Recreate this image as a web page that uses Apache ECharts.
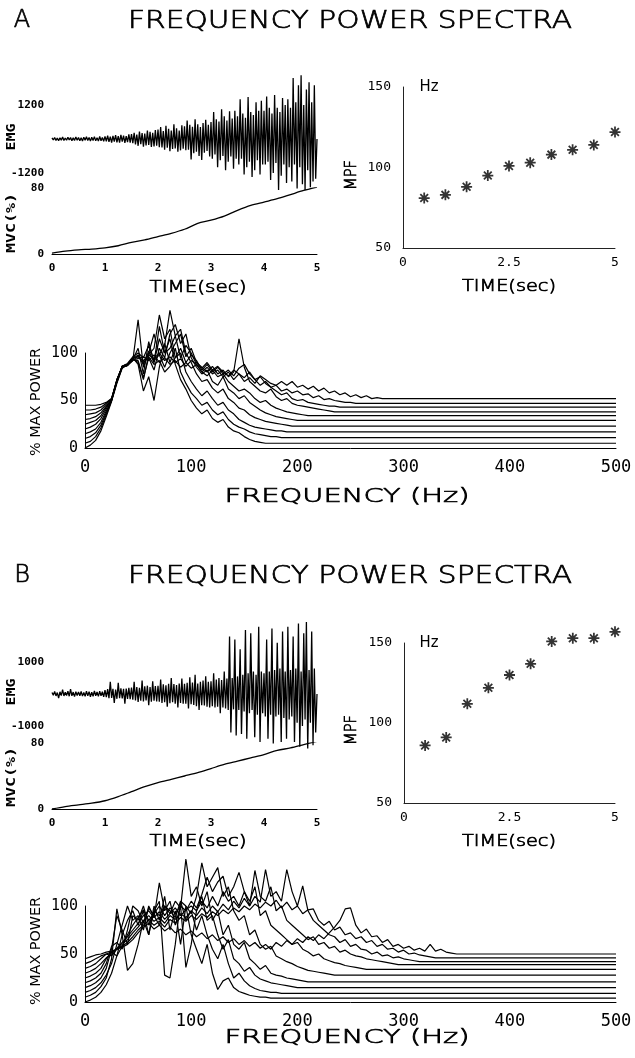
<!DOCTYPE html>
<html><head><meta charset="utf-8">
<script src="https://cdn.jsdelivr.net/npm/echarts@6/dist/echarts.min.js"></script>
<style>html,body{margin:0;padding:0;background:#fff}#c{width:635px;height:1058px}</style>
</head><body><div id="c"></div>
<script>
// ---------------- DATA ----------------
const panelLetters = ['A', 'B'];
const titleText = 'FREQUENCY POWER SPECTRA';
const emgTickA = [-1200, 1200];
const emgTickB = [-1000, 1000];
const mvcTicks = [0, 80];
const timeTicks = [0, 1, 2, 3, 4, 5];
const mpfTicks = [50, 100, 150];
const specXTicks = [0, 100, 200, 300, 400, 500];
const specYTicks = [0, 50, 100];

// EMG raw signal samples (every 0.025 s, 0..5 s)
const emgA = [
 40,-35,55,-50,30,-60,45,-40,70,-55,35,-45,60,-30,50,-65,40,-50,75,-45,
 55,-60,40,-70,65,-45,80,-55,50,-75,60,-50,85,-65,45,-70,90,-60,55,-80,
 95,-80,120,-100,85,-130,110,-90,140,-115,100,-125,150,-95,120,-140,105,-110,160,-130,
 170,-150,220,-190,160,-240,260,-180,210,-270,190,-230,300,-210,250,-280,220,-260,320,-240,
 330,-290,420,-300,280,-380,470,-310,360,-430,300,-350,520,-330,380,-450,300,-400,480,-340,
 450,-400,650,-380,500,-720,430,-500,700,-450,520,-600,420,-740,560,-480,680,-420,500,-620,
 600,-700,950,-550,700,-1000,620,-750,1050,-600,800,-1100,650,-800,980,-620,720,-1050,1000,-700,
 800,-900,1400,-700,900,-1250,750,-1000,1480,-800,950,-1340,850,-1100,1300,-750,1000,-1250,1350,-900,
 1000,-900,1500,-800,1100,-1450,900,-1200,1550,-850,1100,-1800,950,-1300,1450,-900,1200,-1550,1400,-1000,
 1100,-1500,2150,-900,1300,-1750,1900,-1000,2250,-1600,1200,-1800,1750,-1100,2000,-1700,1300,-1500,1900,-1400,0
];
const emgB = [
 50,-40,80,-60,45,-130,70,-50,140,-60,55,-45,90,-70,150,-55,60,-80,70,-50,
 60,-55,80,-65,50,-70,90,-60,75,-85,60,-70,95,-55,65,-75,85,-60,70,-90,
 120,-100,150,-130,380,-120,160,-280,140,-150,350,-130,180,-140,160,-300,170,-150,190,-160,
 200,-180,380,-200,220,-250,190,-210,420,-230,240,-200,260,-350,220,-240,400,-210,250,-230,
 260,-240,450,-280,300,-260,270,-400,320,-290,500,-260,310,-300,280,-420,330,-280,480,-300,
 320,-300,350,-450,520,-320,360,-340,600,-380,330,-500,380,-350,420,-360,550,-400,380,-420,
 400,-380,650,-420,450,-400,500,-600,440,-420,700,-450,480,-500,1800,-1200,500,-480,1700,-1300,
 550,-500,1400,-1250,600,-550,2000,-1400,650,-600,1900,-500,700,-1350,600,-650,2100,-1500,700,-600,
 650,-700,1700,-1400,700,-650,2050,-1550,750,-700,1600,-650,800,-1500,1950,-750,700,-1400,2100,-800,
 750,-700,1800,-1500,800,-900,2200,-1650,700,-1000,1900,-800,2250,-1700,750,-900,1950,-1600,800,-1200,0
];
const emgStep = 0.025;

// Force (% MVC), every 0.25 s
const mvcA = [1,3.5,5,6,7.5,10,14,17,21,25,30,37,41,46,53,59,63,67,72,77,81];
const mvcB = [0,3,5,7,10,15,21,27,32,36,40,44,49,54,58,62,66,71,74,78,82];
const mvcStep = 0.25;

// Mean power frequency (Hz)
const mpfTime = [0.5,1,1.5,2,2.5,3,3.5,4,4.5,5];
const mpfA = [81,83,88,95,101,103,108,111,114,122];
const mpfB = [86,91,112,122,130,137,151,153,153,157];

// Power spectra (% max power, stacked), sampled every 5 Hz from 0 Hz; last value is at 500 Hz
const specA0 = [0,3,8,18,33,49,68,84,88,93, 105,78,112,90,128,100,115,88,72,62, 50,42,36,40,31,27,30,22,18,16, 12,9,7,6,5, 5];
const specA1 = [5,7,12,21,35,50,69,85,87,92, 135,85,100,120,98,110,90,105,80,68, 58,52,45,48,40,35,38,30,25,22, 20,17,15,14,13,12,12,11, 11];
const specA2 = [10,12,16,24,37,50,70,86,88,94, 90,72,98,105,140,115,125,95,100,80, 70,62,55,60,52,45,48,40,36,30, 27,24,22,21,20,19,18,18,17, 17];
const specA3 = [15,17,20,27,39,50,71,85,87,95, 88,60,75,50,85,108,145,118,125,100, 90,78,70,72,63,58,62,52,48,42, 40,35,32,30,28,27,26,25,24,23, 23];
const specA4 = [20,22,25,31,41,51,70,86,88,93, 92,74,95,82,105,95,120,130,110,120, 95,85,78,82,70,66,75,62,58,52, 55,48,44,40,37,35,33,32,31,30,29, 29];
const specA5 = [25,27,29,34,43,51,72,85,87,92, 97,88,102,90,115,100,105,118,95,108, 100,88,80,76,82,75,78,70,65,60, 62,58,52,48,50,45,42,40,38,37,36,35,34, 34];
const specA6 = [30,31,33,37,44,51,71,86,89,96, 100,95,108,92,98,85,100,110,120,96, 105,90,85,80,86,78,82,75,80,115, 85,70,65,60,58,62,54,50,52,47, 45,44,43,42,41,40,39,38, 38];
const specA7 = [35,36,37,40,46,52,72,85,87,94, 98,90,96,88,92,80,86,95,105,90, 98,92,82,88,80,85,78,82,76,84, 88,78,72,66,70,64,60,56,58,52, 50,51,48,47,46,45,44,44,43, 43];
const specA8 = [40,40,41,43,47,52,71,86,88,95, 96,92,98,94,100,92,96,90,94,86, 92,88,84,90,82,86,80,76,82,78, 74,80,72,75,68,64,66,60,62,58, 60,56,57,53,55,51,52,50,49,48,48,47, 47];
const specA9 = [45,45,45,46,48,52,70,85,87,93, 94,96,92,98,90,95,88,92,85,90, 84,88,80,85,78,82,75,80,72,78, 70,74,68,76,72,68,66,70,66,70, 64,66,62,65,60,63,58,60,56,58, 54,56,53,55,52,53,52, 52];

const specB0 = [0,2,5,10,18,30,48,70,85,95, 80,95,70,100,85,110,75,95,60,100, 70,55,40,60,30,13,22,25,15,11, 9,7,6,5,5,4, 4];
const specB1 = [5,7,10,16,25,45,97,70,33,40, 60,85,70,95,105,28,25,60,105,85, 95,75,90,70,55,45,60,40,25,30, 22,17,14,12,11,10,10,9, 9];
const specB2 = [10,12,15,20,28,40,60,80,100,85, 90,75,100,88,124,95,105,80,100,36, 60,95,110,85,90,70,55,65,45,40, 32,36,28,24,22,20,19,18,17,16,15, 15];
const specB3 = [15,17,20,25,35,55,90,75,60,90, 85,100,80,95,90,100,92,105,98,149, 110,120,100,115,85,95,70,80,60,55, 62,45,40,34,38,30,28,27,25,24,23,22,21, 21];
const specB4 = [20,22,25,30,40,58,62,55,75,100, 95,82,98,90,80,100,95,88,105,100, 92,110,145,120,130,140,110,120,95,85, 90,70,75,60,55,58,48,45,42,40, 37,35,33,32,31,30,29,28, 28];
const specB5 = [25,27,30,35,45,52,48,58,70,80, 88,96,85,92,100,90,98,92,100,95, 105,98,112,130,115,125,131,110,120,135, 115,105,120,90,95,80,75,70,65,60, 62,55,52,48,50,45,43,41,40,38, 37,36,35,34, 34];
const specB6 = [30,32,35,40,46,50,56,62,68,75, 82,90,95,88,94,86,92,98,90,96, 100,95,105,98,110,100,115,105,110,100, 115,100,137,110,105,120,95,100,85,80, 75,70,65,68,60,62,56,58,52,54, 50,48,47,45,44,43,42,41,40,39, 39];
const specB7 = [35,37,40,45,50,48,55,60,65,72, 78,85,90,84,88,82,90,86,92,88, 95,90,98,92,100,94,102,96,105,98, 108,100,110,104,138,110,115,105,138,115, 100,121,95,85,80,75,70,68,62,65, 58,60,55,54,50,52,48,49,46,47, 45,44,43,42, 42];
const specB8 = [40,42,45,48,50,52,55,58,62,68, 75,80,85,80,84,78,86,82,88,84, 90,86,92,88,94,90,96,92,98,94, 100,96,102,98,104,100,106,98,104,96, 100,92,96,97,85,80,84,75,78,70, 72,66,68,62,64,58,60,55,56,52, 54,50,51,49,48,47,46, 46];
const specB9 = [45,47,49,50,52,53,55,57,60,65, 72,78,82,76,80,74,78,72,76,70, 74,68,72,66,70,64,68,62,66,60, 64,58,62,56,60,55,62,58,64,60, 66,62,68,64,70,66,72,78,85,97, 98,80,72,76,68,69,62,65,58,60, 56,58,54,56,53,60,53,55,52,51,50, 50];
const specStep = 5;
const specEnd = 500;

const spectraA = [specA0,specA1,specA2,specA3,specA4,specA5,specA6,specA7,specA8,specA9];
const spectraB = [specB0,specB1,specB2,specB3,specB4,specB5,specB6,specB7,specB8,specB9];

// ---------------- LAYOUT ----------------
const MONO = "'DejaVu Sans Mono', monospace";
const SANS = "'DejaVu Sans', sans-serif";
const INK = '#000';

const panels = [
  { letter: panelLetters[0], emg: emgA, emgTicks: emgTickA, emgRange: 2400, mvc: mvcA, mpf: mpfA, spectra: spectraA,
    titleY: 21, emgGrid: {top: 71, height: 136}, mvcGrid: {top: 188, height: 66},
    mpfGrid: {left: 403, top: 87, width: 212, height: 161}, specGrid: {top: 353, height: 95},
    emgLabelY: 137, mvcLabelY: 223, timeY: 288, mpfTimeY: 287, mpfNameY: 175, hzY: 87, pctY: 402, freqY: 497 },
  { letter: panelLetters[1], emg: emgB, emgTicks: emgTickB, emgRange: 3000, mvc: mvcB, mpf: mpfB, spectra: spectraB,
    titleY: 576, emgGrid: {top: 598, height: 192}, mvcGrid: {top: 743, height: 66},
    mpfGrid: {left: 404, top: 643, width: 211, height: 160}, specGrid: {top: 906, height: 96},
    emgLabelY: 692, mvcLabelY: 777, timeY: 842, mpfTimeY: 842, mpfNameY: 730, hzY: 643, pctY: 951, freqY: 1038 }
];

const cvs = document.createElement('canvas').getContext('2d');
function measure(text, size, weight, family) {
  cvs.font = (weight || 'normal') + ' ' + size + 'px ' + family;
  return cvs.measureText(text).width;
}
function txt(text, x, y, size, targetW, o) {
  o = o || {};
  const fam = o.family || SANS, wt = o.weight || 'normal';
  const w = measure(text, size, wt, fam);
  const style = { text: text, fontSize: size, fontFamily: fam, fontWeight: wt, fill: INK, align: o.align || 'center', verticalAlign: 'middle' };
  if (o.stroke) { style.stroke = INK; style.lineWidth = o.stroke; }
  return { type: 'text', x: x, y: y, rotation: o.rot || 0, scaleX: targetW ? targetW / w : 1, silent: true, style: style };
}
const pen = { weight: 200, stroke: 0.7 };

const asterisk = 'path://M-5,-0.8L5,-0.8L5,0.8L-5,0.8Z M0.8,-5L0.8,5L-0.8,5L-0.8,-5Z M-2.95,-4.1L4.1,2.95L2.95,4.1L-4.1,-2.95Z M-4.1,2.95L2.95,-4.1L4.1,-2.95L-2.95,4.1Z';

const grids = [], xAxes = [], yAxes = [], series = [], graphics = [];
const noLine = { show: false };
const axLine = { show: true, lineStyle: { color: INK, width: 1 } };

panels.forEach((p) => {
  const g0 = grids.length;
  // EMG
  grids.push({ left: 52, width: 265, top: p.emgGrid.top, height: p.emgGrid.height, containLabel: false, outerBoundsMode: 'none' });
  xAxes.push({ gridIndex: g0, type: 'value', min: 0, max: 5, show: false });
  yAxes.push({ gridIndex: g0, type: 'value', min: -p.emgRange, max: p.emgRange, interval: p.emgTicks[1],
    axisLine: noLine, axisTick: noLine, splitLine: noLine,
    axisLabel: { margin: 8, fontSize: 11, fontWeight: 'bold', fontFamily: MONO, color: INK,
      formatter: (v) => (p.emgTicks.indexOf(v) >= 0 ? String(v) : '') } });
  series.push({ type: 'line', xAxisIndex: g0, yAxisIndex: g0, symbol: 'none', animation: false, silent: true, clip: false,
    lineStyle: { color: INK, width: 1.3 }, data: p.emg.map((v, i) => [i * emgStep, v]) });
  // MVC
  const g1 = g0 + 1;
  grids.push({ left: 52, width: 265, top: p.mvcGrid.top, height: p.mvcGrid.height, containLabel: false, outerBoundsMode: 'none' });
  xAxes.push({ gridIndex: g1, type: 'value', min: timeTicks[0], max: timeTicks[timeTicks.length - 1], interval: 1,
    axisLine: axLine, axisTick: noLine, splitLine: noLine,
    axisLabel: { margin: 9, fontSize: 11, fontWeight: 'bold', fontFamily: MONO, color: INK } });
  yAxes.push({ gridIndex: g1, type: 'value', min: mvcTicks[0], max: mvcTicks[1], interval: 80,
    axisLine: noLine, axisTick: noLine, splitLine: noLine,
    axisLabel: { margin: 8, fontSize: 11, fontWeight: 'bold', fontFamily: MONO, color: INK } });
  series.push({ type: 'line', xAxisIndex: g1, yAxisIndex: g1, symbol: 'none', animation: false, silent: true, smooth: 0.3,
    lineStyle: { color: INK, width: 1.3 }, data: p.mvc.map((v, i) => [i * mvcStep, v]) });
  // MPF
  const g2 = g0 + 2;
  grids.push(Object.assign({ containLabel: false, outerBoundsMode: 'none' }, p.mpfGrid));
  xAxes.push({ gridIndex: g2, type: 'value', min: 0, max: 5, interval: 2.5,
    axisLine: { show: true, lineStyle: { color: '#222', width: 1 } }, axisTick: noLine, splitLine: noLine,
    axisLabel: { margin: 8, fontSize: 13, fontFamily: MONO, color: INK } });
  yAxes.push({ gridIndex: g2, type: 'value', min: mpfTicks[0], max: mpfTicks[2], interval: 50,
    axisLine: { show: true, lineStyle: { color: '#222', width: 1 } }, axisTick: noLine, splitLine: noLine,
    axisLabel: { margin: 12, fontSize: 13, fontFamily: MONO, color: INK } });
  series.push({ type: 'scatter', xAxisIndex: g2, yAxisIndex: g2, symbol: asterisk, symbolSize: 11, animation: false, silent: true,
    clip: false, itemStyle: { color: INK }, data: mpfTime.map((t, i) => [t, p.mpf[i]]) });
  // Spectra
  const g3 = g0 + 3;
  grids.push({ left: 85, width: 531, top: p.specGrid.top, height: p.specGrid.height, containLabel: false, outerBoundsMode: 'none' });
  xAxes.push({ gridIndex: g3, type: 'value', min: specXTicks[0], max: specXTicks[5], interval: 100,
    axisLine: axLine, axisTick: noLine, splitLine: noLine,
    axisLabel: { margin: 11, fontSize: 17, fontFamily: MONO, color: INK } });
  yAxes.push({ gridIndex: g3, type: 'value', min: specYTicks[0], max: specYTicks[2], interval: 50,
    axisLine: axLine, axisTick: noLine, splitLine: noLine,
    axisLabel: { margin: 7, fontSize: 15, fontFamily: MONO, color: INK } });
  p.spectra.forEach((vals) => {
    series.push({ type: 'line', xAxisIndex: g3, yAxisIndex: g3, symbol: 'none', animation: false, silent: true, clip: false,
      lineStyle: { color: INK, width: 1.2 },
      data: vals.map((v, i) => [i === vals.length - 1 ? specEnd : i * specStep, v]) });
  });

  // Texts
  graphics.push(txt(p.letter, 22, p.titleY, 24, 0, pen));
  graphics.push(txt(titleText, 350, p.titleY, 25, 444, pen));
  graphics.push(txt('EMG', 12, p.emgLabelY, 13, 27, { rot: Math.PI / 2, weight: 'bold', family: MONO }));
  graphics.push(txt('MVC(%)', 12, p.mvcLabelY, 13, 60, { rot: Math.PI / 2, weight: 'bold', family: MONO }));
  graphics.push(txt('TIME(sec)', 198, p.timeY, 16, 97, pen));
  graphics.push(txt('TIME(sec)', 509, p.mpfTimeY, 16, 94, pen));
  graphics.push(txt('MPF', 352, p.mpfNameY, 16, 30, Object.assign({ rot: Math.PI / 2 }, pen)));
  graphics.push(txt('Hz', 429, p.hzY, 15, 19));
  graphics.push(txt('% MAX POWER', 36, p.pctY, 14, 108, { rot: Math.PI / 2 }));
  graphics.push(txt('FREQUENCY (Hz)', 347, p.freqY, 19, 245, pen));
});

const chart = echarts.init(document.getElementById('c'), null, { renderer: 'canvas' });
chart.setOption({
  backgroundColor: '#fff',
  animation: false,
  grid: grids, xAxis: xAxes, yAxis: yAxes, series: series, graphic: graphics
});
</script></body></html>
